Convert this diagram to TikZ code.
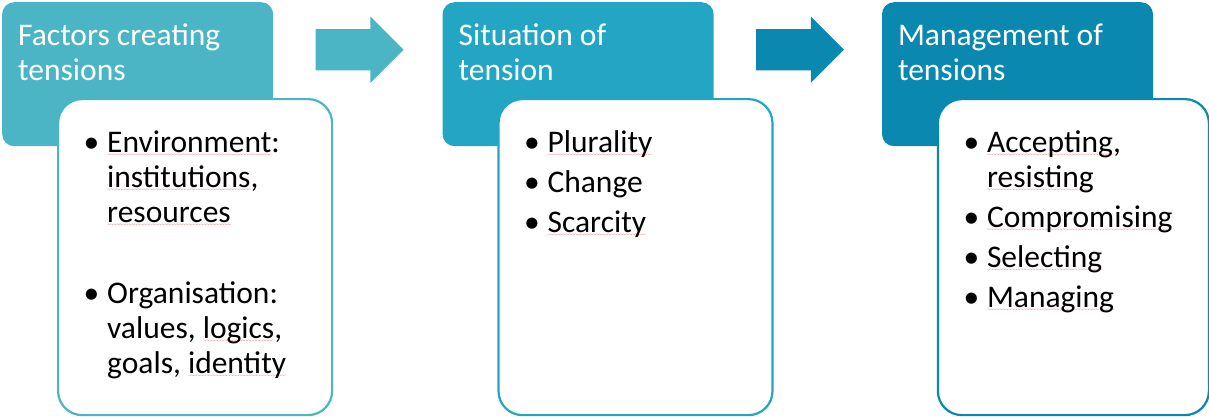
\documentclass[tikz,border=0pt]{standalone}
\usepackage{fontspec}
\setmainfont{Carlito}
\usepackage{tikz}
\usetikzlibrary{positioning,shapes.arrows,decorations.pathmorphing}
\usepackage{xcolor}
\definecolor{tenslight}{RGB}{75,181,198}
\definecolor{tensmid}{RGB}{35,165,196}
\definecolor{tensdark}{RGB}{11,136,176}
\definecolor{spellred}{RGB}{248,170,170}

% spell-check squiggle under a word
\newlength\spellwd
\newcommand\spell[1]{\settowidth\spellwd{#1}\rlap{\tikz[overlay,baseline=0pt]\draw[spellred,line width=0.5pt,decorate,decoration={snake,amplitude=0.4pt,segment length=3pt}] (0pt,-2pt) -- (\spellwd,-2pt);}#1}

\tikzset{
  headbox/.style={fill=#1, rounded corners=12pt, minimum width=271pt, minimum height=144pt, inner sep=0pt},
  bodybox/.style={draw=#1, fill=white, line width=2.2pt, rounded corners=24pt, minimum width=274pt, minimum height=316pt, inner sep=0pt},
  headtext/.style={text=white, font=\fontsize{31.5}{35}\selectfont, inner sep=0pt, anchor=north west},
  bodytext/.style={text=black, font=\fontsize{31.5}{35}\selectfont, inner sep=0pt, anchor=north west},
  flowarrow/.style={single arrow, fill=#1, minimum height=88pt, minimum width=66pt, single arrow head extend=12.5pt, inner xsep=0pt, inner ysep=20.5pt, anchor=west}
}
\newcommand\bul{\makebox[20pt][l]{\hspace{-3.5pt}\textbullet}}

\begin{document}
\begin{tikzpicture}[x=1pt,y=-1pt]
\useasboundingbox (0,0) rectangle (1209,416);

% headers
\node[headbox=tenslight, anchor=north west] (headA) at (2,2) {};
\node[headbox=tensmid, right=169pt of headA] (headB) {};
\node[headbox=tensdark, right=168pt of headB] (headC) {};

% arrows between the headers
\node[flowarrow=tenslight, right=42pt of headA.east, yshift=24.5pt] (arrA) {};
\node[flowarrow=tensdark, right=42pt of headB.east, yshift=24.5pt] (arrB) {};

% white boxes
\node[bodybox=tenslight, below right=96pt and 55pt of headA.north west] (bodyA) {};
\node[bodybox=tensmid, below right=96pt and 55pt of headB.north west] (bodyB) {};
\node[bodybox=tensdark, minimum width=271pt, below right=96pt and 55pt of headC.north west] (bodyC) {};

% header titles
\node[headtext, below right=18.5pt and 16pt of headA.north west] (titleA) {\begin{tabular}{@{}l@{}}Factors creating\\tensions\end{tabular}};
\node[headtext, below right=18.5pt and 16pt of headB.north west] (titleB) {\begin{tabular}{@{}l@{}}Situation of\\tension\end{tabular}};
\node[headtext, below right=18.5pt and 16pt of headC.north west] (titleC) {\begin{tabular}{@{}l@{}}Management of\\tensions\end{tabular}};

% bullet lists
\node[bodytext, below right=29.5pt and 30pt of bodyA.north west] (listA) {\begin{tabular}{@{}l@{}l@{}}
\bul & \spell{Environment}:\\
 & \spell{institutions},\\
 & \spell{resources}\\[46pt]
\bul & Organisation:\\
 & values, \spell{logics},\\
 & goals, \spell{identity}
\end{tabular}};
\node[bodytext, below right=29.5pt and 30pt of bodyB.north west] (listB) {\begin{tabular}{@{}l@{}l@{}}
\bul & \spell{Plurality}\\[5pt]
\bul & Change\\[5pt]
\bul & \spell{Scarcity}
\end{tabular}};
\node[bodytext, below right=29.5pt and 30pt of bodyC.north west] (listC) {\begin{tabular}{@{}l@{}l@{}}
\bul & \spell{Accepting},\\
 & \spell{resisting}\\[5pt]
\bul & \spell{Compromising}\\[5pt]
\bul & \spell{Selecting}\\[5pt]
\bul & \spell{Managing}
\end{tabular}};
\end{tikzpicture}
\end{document}
